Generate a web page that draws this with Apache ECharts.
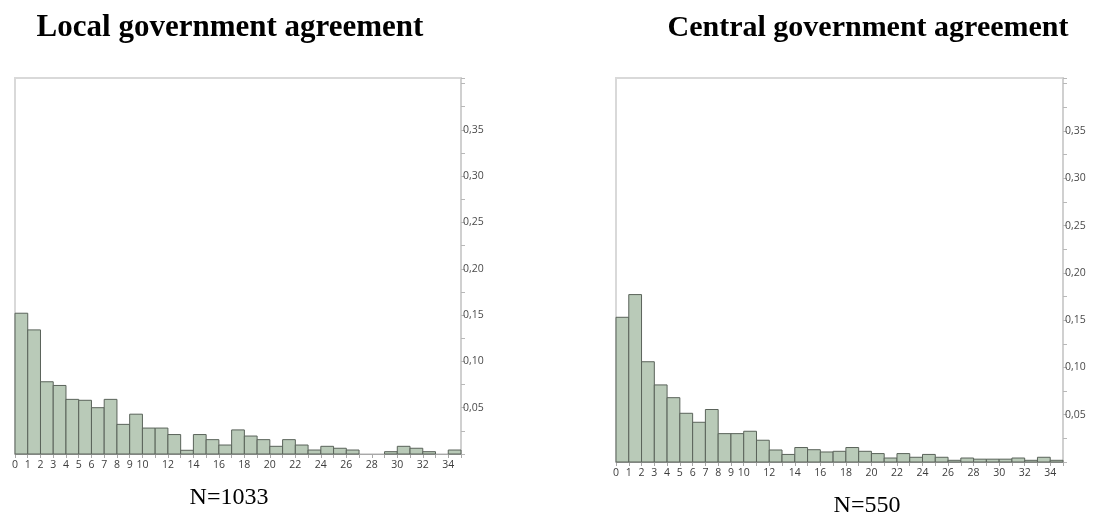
<!DOCTYPE html>
<html>
<head>
<meta charset="utf-8">
<style>
  html, body { margin: 0; padding: 0; background: #ffffff; }
  #chart { width: 1096px; height: 526px; }
</style>
<script src="https://cdn.jsdelivr.net/npm/echarts@6/dist/echarts.min.js"></script>
</head>
<body>
<div id="chart"></div>
<script>
// Histogram bins: each bin runs from its start value to start + 1
const binStarts = [0, 1, 2, 3, 4, 5, 6, 7, 8, 9, 10, 11, 12, 13, 14, 15, 16, 17,
  18, 19, 20, 21, 22, 23, 24, 25, 26, 27, 28, 29, 30, 31, 32, 33, 34];

// Share of agreements per bin, local government (N=1033)
const localShares = [0.152, 0.134, 0.078, 0.074, 0.059, 0.058, 0.050, 0.059, 0.032, 0.043,
  0.028, 0.028, 0.021, 0.004, 0.021, 0.0155, 0.0097, 0.026, 0.0194, 0.0155,
  0.0083, 0.0155, 0.0097, 0.0043, 0.0083, 0.0062, 0.0043, 0, 0, 0.0025,
  0.0083, 0.0062, 0.0025, 0, 0.0043];

// Share of agreements per bin, central government (N=550)
const centralShares = [0.153, 0.177, 0.106, 0.0815, 0.068, 0.0515, 0.042, 0.0555, 0.030, 0.030,
  0.0325, 0.023, 0.0127, 0.008, 0.0153, 0.013, 0.0106, 0.0113, 0.0153, 0.0113,
  0.0089, 0.0042, 0.0089, 0.005, 0.008, 0.005, 0.0018, 0.0042, 0.003, 0.003,
  0.003, 0.0042, 0.0018, 0.005, 0.0018];

// Tick labels
const xTickLabels = [0, 1, 2, 3, 4, 5, 6, 7, 8, 9, 10, 12, 14, 16, 18, 20, 22, 24, 26, 28, 30, 32, 34];
const yTickLabels = [0.05, 0.10, 0.15, 0.20, 0.25, 0.30, 0.35];

const panelTitles = ['Local government agreement', 'Central government agreement'];
const sampleSizes = ['N=1033', 'N=550'];

const BAR_FILL = '#b9cab8';
const BAR_EDGE = '#5a635a';

function renderBin(params, api) {
  const start = api.value(0);
  const share = api.value(1);
  if (!share) return null;
  const base = api.coord([start, 0]);
  const top = api.coord([start + 1, share]);
  return {
    type: 'rect',
    shape: { x: base[0], y: top[1], width: top[0] - base[0], height: base[1] - top[1] },
    style: { fill: BAR_FILL, stroke: BAR_EDGE, lineWidth: 1 }
  };
}

function xAxisFor(gridIndex) {
  return {
    type: 'value', gridIndex: gridIndex, min: 0, max: 35, interval: 1,
    axisLine: { show: true, onZero: false, lineStyle: { color: '#a8a8a8', width: 1 } },
    axisTick: { show: true, length: 4, lineStyle: { color: '#a8a8a8' } },
    splitLine: { show: false },
    axisLabel: {
      margin: 6, fontSize: 10.5, color: '#3c3c3c', fontFamily: 'Open Sans',
      formatter: function (v) { return xTickLabels.indexOf(v) >= 0 ? String(v) : ''; }
    }
  };
}

// Ticks every 0.025; labels only on the 0.05 steps listed above
function yAxisFor(gridIndex) {
  return {
    type: 'value', gridIndex: gridIndex, position: 'right', min: 0, max: 0.406, interval: 0.025,
    axisLine: { show: true, onZero: false, lineStyle: { color: '#d0d0d0', width: 2 } },
    axisTick: { show: true, length: 4, lineStyle: { color: '#b8b8b8' } },
    splitLine: { show: false },
    axisLabel: {
      margin: 2, fontSize: 10.5, color: '#4a4a4a', fontFamily: 'Open Sans',
      formatter: function (v) {
        const hit = yTickLabels.some(function (t) { return Math.abs(t - v) < 1e-6; });
        return hit ? v.toFixed(2).replace('.', ',') : '';
      }
    }
  };
}

const chart = echarts.init(document.getElementById('chart'), null, { renderer: 'canvas' });

chart.setOption({
  animation: false,
  backgroundColor: '#ffffff',
  grid: [
    { left: 15, top: 78, right: 635, bottom: 72, show: true, borderColor: '#d9d9d9', borderWidth: 2, backgroundColor: 'transparent' },
    { left: 616, top: 78, right: 33, bottom: 64, show: true, borderColor: '#d9d9d9', borderWidth: 2, backgroundColor: 'transparent' }
  ],
  xAxis: [xAxisFor(0), xAxisFor(1)],
  yAxis: [yAxisFor(0), yAxisFor(1)],
  series: [
    {
      type: 'custom', xAxisIndex: 0, yAxisIndex: 0, renderItem: renderBin,
      data: binStarts.map(function (s, i) { return [s, localShares[i]]; })
    },
    {
      type: 'custom', xAxisIndex: 1, yAxisIndex: 1, renderItem: renderBin,
      data: binStarts.map(function (s, i) { return [s, centralShares[i]]; })
    }
  ],
  graphic: [
    { type: 'text', x: 230, y: 28, style: { text: panelTitles[0], font: 'bold 31px "Liberation Serif"', fill: '#000', textAlign: 'center', textVerticalAlign: 'middle' } },
    { type: 'text', x: 868, y: 28, style: { text: panelTitles[1], font: 'bold 30px "Liberation Serif"', fill: '#000', textAlign: 'center', textVerticalAlign: 'middle' } },
    { type: 'text', x: 229, y: 498, style: { text: sampleSizes[0], font: '24px "Liberation Serif"', fill: '#000', textAlign: 'center', textVerticalAlign: 'middle' } },
    { type: 'text', x: 867, y: 506, style: { text: sampleSizes[1], font: '24px "Liberation Serif"', fill: '#000', textAlign: 'center', textVerticalAlign: 'middle' } }
  ]
});
</script>
</body>
</html>
